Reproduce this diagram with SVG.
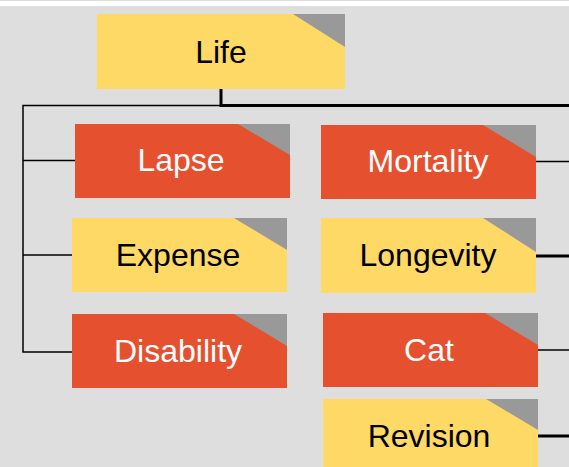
<svg xmlns="http://www.w3.org/2000/svg" width="569" height="467" viewBox="0 0 569 467">
<style>
.red{fill:#E5512F}
.yel{fill:#FFD966}
.tri{fill:#999999}
.t{font-family:"Liberation Sans",Arial,sans-serif;font-size:32px;text-anchor:middle}
.tw{fill:#FFFFFF}
.tb{fill:#000000}
.thin{stroke:#000;stroke-width:1.5;fill:none}
.thick{stroke:#000;stroke-width:3;fill:none}
</style>
<rect x="0" y="0" width="569" height="467" fill="#DEDEDE"/>
<rect x="0" y="1" width="569" height="5" fill="#FFFFFF"/>
<g id="connectors">
<path class="thick" d="M221,88 V105.5 H569"/>
<path class="thin" d="M221,105.5 H23 V352 H72"/>
<path class="thin" d="M23,160.5 H75"/>
<path class="thin" d="M23,255 H72"/>
<path class="thin" d="M536,161.5 H569"/>
<path class="thick" d="M536,256 H569"/>
<path class="thin" d="M538,350 H569"/>
<path class="thick" d="M538,436 H569"/>
</g>
<g id="life">
<rect class="yel" x="97" y="14" width="248" height="75"/>
<polygon class="tri" points="293,14 345,14 345,47"/>
<text class="t tb" x="221" y="63">Life</text>
</g>
<g id="lapse">
<rect class="red" x="75" y="124" width="215" height="74"/>
<polygon class="tri" points="238,124 290,124 290,155"/>
<text class="t tw" x="181" y="171">Lapse</text>
</g>
<g id="expense">
<rect class="yel" x="72" y="218" width="215" height="74"/>
<polygon class="tri" points="234,218 287,218 287,250"/>
<text class="t tb" x="178" y="266">Expense</text>
</g>
<g id="disability">
<rect class="red" x="72" y="314" width="215" height="74"/>
<polygon class="tri" points="234,314 287,314 287,346"/>
<text class="t tw" x="178" y="362">Disability</text>
</g>
<g id="mortality">
<rect class="red" x="321" y="125" width="215" height="74"/>
<polygon class="tri" points="483,125 536,125 536,157"/>
<text class="t tw" x="428" y="172">Mortality</text>
</g>
<g id="longevity">
<rect class="yel" x="321" y="218" width="215" height="75"/>
<polygon class="tri" points="483,218 536,218 536,252"/>
<text class="t tb" x="428" y="266">Longevity</text>
</g>
<g id="cat">
<rect class="red" x="323" y="313" width="215" height="74"/>
<polygon class="tri" points="485,313 538,313 538,345"/>
<text class="t tw" x="429" y="361">Cat</text>
</g>
<g id="revision">
<rect class="yel" x="323" y="399" width="215" height="70"/>
<polygon class="tri" points="486,399 538,399 538,430"/>
<text class="t tb" x="429" y="447">Revision</text>
</g>
</svg>
